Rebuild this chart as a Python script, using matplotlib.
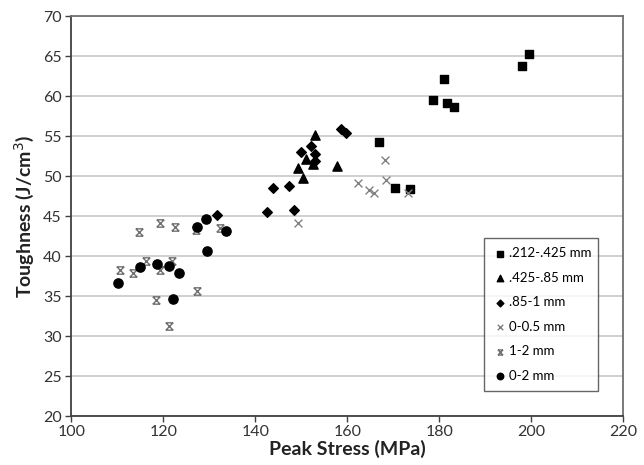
import matplotlib.pyplot as plt
from matplotlib.path import Path
import numpy as np

plt.rcParams['font.family'] = ['Lato', 'DejaVu Sans']

# .212-.425 mm
sq_x = [199.4, 197.9, 181.0, 178.7, 181.6, 183.2, 166.9, 170.3, 173.7]
sq_y = [65.3, 63.8, 62.1, 59.5, 59.1, 58.6, 54.3, 48.5, 48.4]
# .425-.85 mm
tri_x = [152.9, 151.0, 149.2, 150.3, 152.5, 157.7]
tri_y = [55.2, 52.2, 51.0, 49.8, 51.5, 51.3]
# .85-1 mm
dia_x = [158.5, 159.7, 152.1, 150.0, 152.9, 152.9, 143.9, 147.3, 142.5, 148.3, 131.6]
dia_y = [55.9, 55.4, 53.8, 53.0, 52.8, 51.9, 48.5, 48.8, 45.5, 45.75, 45.1]
# 0-0.5 mm
x05_x = [168.2, 168.4, 162.3, 164.6, 165.8, 173.2, 149.2]
x05_y = [52.0, 49.5, 49.1, 48.3, 47.9, 47.9, 44.1]
# 1-2 mm
s12_x = [114.7, 119.2, 122.5, 127.0, 132.4, 110.5, 113.3, 116.3, 119.3, 121.8, 118.4, 127.3, 121.2]
s12_y = [43.0, 44.1, 43.6, 43.3, 43.5, 38.25, 37.9, 39.4, 38.3, 39.4, 34.5, 35.6, 31.3]
# 0-2 mm
c02_x = [110.2, 115.0, 118.5, 121.2, 123.4, 122.0, 129.5, 127.3, 129.2, 133.6]
c02_y = [36.7, 38.6, 39.0, 38.75, 37.9, 34.7, 40.6, 43.7, 44.7, 43.1]

labels = ['.212-.425 mm', '.425-.85 mm', '.85-1 mm', '0-0.5 mm', '1-2 mm', '0-2 mm']

# x with caps on top and bottom (Excel style star)
star = Path([(-1, -1), (1, 1), (-1, 1), (1, -1), (-1, 1), (1, 1), (-1, -1), (1, -1)],
            [Path.MOVETO, Path.LINETO, Path.MOVETO, Path.LINETO,
             Path.MOVETO, Path.LINETO, Path.MOVETO, Path.LINETO])

fig = plt.figure(figsize=(6.44, 4.65), dpi=100)
ax = fig.add_axes([0.111, 0.105, 0.857, 0.860])

ax.scatter(sq_x, sq_y, marker='s', s=40, color='black', label=labels[0], zorder=3)
ax.scatter(tri_x, tri_y, marker='^', s=44, color='black', label=labels[1], zorder=3)
ax.scatter(dia_x, dia_y, marker='D', s=24, color='black', label=labels[2], zorder=3)
ax.scatter(x05_x, x05_y, marker='x', s=32, color='#808080', linewidths=1.0, label=labels[3], zorder=3)
ax.scatter(s12_x, s12_y, marker=star, s=28, color='#707070', linewidths=1.0, label=labels[4], zorder=3)
ax.scatter(c02_x, c02_y, marker='o', s=44, color='black', label=labels[5], zorder=3)

ax.set_xlim(100, 220)
ax.set_ylim(20, 70)
ax.set_xticks(np.arange(100, 221, 20))
ax.set_yticks(np.arange(20, 71, 5))
ax.yaxis.grid(True, color='#c8c8c8', linewidth=1.2)
ax.set_axisbelow(True)

for side in ['left', 'bottom']:
    ax.spines[side].set_color('#404040')
    ax.spines[side].set_linewidth(1.3)
for side in ['top', 'right']:
    ax.spines[side].set_color('#707070')
    ax.spines[side].set_linewidth(1.3)

ax.tick_params(axis='both', labelsize=11.5, colors='#404040', length=4, width=1, labelcolor='#333333')
ax.tick_params(axis='y', pad=3)
ax.tick_params(axis='x', pad=2)

ax.set_xlabel('Peak Stress (MPa)', fontsize=14, fontweight='bold', color='#222222', labelpad=1)
ax.set_ylabel('Toughness (J/cm$^3$)', fontsize=14, fontweight='bold', color='#222222', labelpad=5)

leg = ax.legend(loc='lower left', bbox_to_anchor=(0.747, 0.0625, 0.207, 0.3575), mode='expand',
                fontsize=9.5, frameon=True, fancybox=False, edgecolor='#404040',
                handletextpad=0.2, handlelength=1.0, labelspacing=0.95, borderpad=0.7,
                markerscale=0.7, borderaxespad=0)
leg.get_frame().set_linewidth(1.0)

plt.savefig('out.png', dpi=100)
